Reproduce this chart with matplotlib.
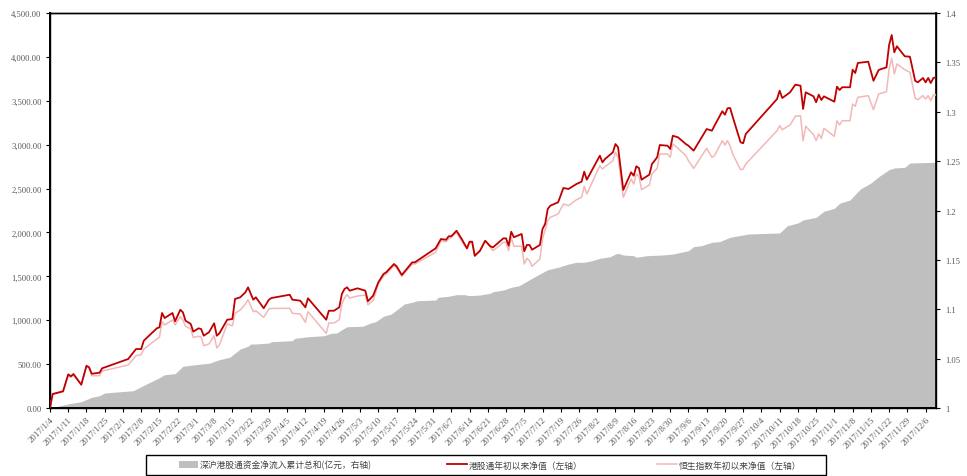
import matplotlib
matplotlib.use("Agg")
import matplotlib.pyplot as plt
from matplotlib.ticker import FuncFormatter, MultipleLocator
from matplotlib.patches import Patch, Rectangle
from matplotlib.lines import Line2D
import pandas as pd

# ---------------- data ----------------
line_dates = [
    "2017-01-04", "2017-01-05", "2017-01-09", "2017-01-11", "2017-01-12", "2017-01-13", "2017-01-16",
    "2017-01-18", "2017-01-19", "2017-01-20", "2017-01-23", "2017-01-24", "2017-02-03", "2017-02-06",
    "2017-02-08", "2017-02-09", "2017-02-14", "2017-02-15", "2017-02-16", "2017-02-17", "2017-02-20",
    "2017-02-21", "2017-02-23", "2017-02-24", "2017-02-25", "2017-02-27", "2017-02-28", "2017-03-02",
    "2017-03-03", "2017-03-04", "2017-03-06", "2017-03-08", "2017-03-09", "2017-03-10", "2017-03-13",
    "2017-03-15", "2017-03-16", "2017-03-18", "2017-03-20", "2017-03-21", "2017-03-23", "2017-03-24",
    "2017-03-27", "2017-03-29", "2017-03-30", "2017-04-06", "2017-04-07", "2017-04-10", "2017-04-12",
    "2017-04-13", "2017-04-20", "2017-04-21", "2017-04-23", "2017-04-25", "2017-04-26", "2017-04-27",
    "2017-04-28", "2017-04-29", "2017-05-02", "2017-05-05", "2017-05-06", "2017-05-08", "2017-05-10",
    "2017-05-12", "2017-05-13", "2017-05-16", "2017-05-17", "2017-05-19", "2017-05-23", "2017-05-24",
    "2017-06-01", "2017-06-03", "2017-06-05", "2017-06-06", "2017-06-07", "2017-06-09", "2017-06-11",
    "2017-06-13", "2017-06-14", "2017-06-15", "2017-06-16", "2017-06-18", "2017-06-20", "2017-06-22",
    "2017-06-23", "2017-06-27", "2017-06-28", "2017-06-29", "2017-06-30", "2017-07-01", "2017-07-04",
    "2017-07-05", "2017-07-06", "2017-07-07", "2017-07-08", "2017-07-11", "2017-07-12", "2017-07-13",
    "2017-07-14", "2017-07-15", "2017-07-18", "2017-07-19", "2017-07-20", "2017-07-22", "2017-07-25",
    "2017-07-27", "2017-07-28", "2017-07-29", "2017-08-03", "2017-08-04", "2017-08-05", "2017-08-08",
    "2017-08-09", "2017-08-10", "2017-08-12", "2017-08-15", "2017-08-16", "2017-08-17", "2017-08-18",
    "2017-08-19", "2017-08-22", "2017-08-23", "2017-08-25", "2017-08-26", "2017-08-29", "2017-08-30",
    "2017-08-31", "2017-09-02", "2017-09-05", "2017-09-06", "2017-09-08", "2017-09-13", "2017-09-15",
    "2017-09-16", "2017-09-19", "2017-09-20", "2017-09-21", "2017-09-22", "2017-09-23", "2017-09-26",
    "2017-09-27", "2017-09-28", "2017-10-10", "2017-10-11", "2017-10-12", "2017-10-15", "2017-10-17",
    "2017-10-19", "2017-10-20", "2017-10-21", "2017-10-24", "2017-10-25", "2017-10-26", "2017-10-27",
    "2017-10-28", "2017-11-01", "2017-11-02", "2017-11-03", "2017-11-04", "2017-11-07", "2017-11-08",
    "2017-11-09", "2017-11-10", "2017-11-14", "2017-11-16", "2017-11-18", "2017-11-21", "2017-11-22",
    "2017-11-23", "2017-11-24", "2017-11-25", "2017-11-28", "2017-11-30", "2017-12-02", "2017-12-03",
    "2017-12-05", "2017-12-06", "2017-12-07", "2017-12-08", "2017-12-09", "2017-12-10",
]

ggt_nav = [
    1.0000, 1.0142, 1.0169, 1.0341, 1.0321, 1.0344, 1.0236, 1.0428, 1.0412, 1.0347, 1.0357, 1.0402,
    1.0496, 1.0597, 1.0597, 1.0682, 1.0807, 1.0817, 1.0962, 1.0911, 1.0962, 1.0878, 1.0995, 1.0969,
    1.0884, 1.0851, 1.0773, 1.0807, 1.0800, 1.0732, 1.0767, 1.0858, 1.0732, 1.0756, 1.0894, 1.0901,
    1.1104, 1.1121, 1.1172, 1.1222, 1.1097, 1.1121, 1.1010, 1.1097, 1.1114, 1.1147, 1.1097, 1.1087,
    1.1020, 1.1111, 1.0894, 1.0985, 1.0985, 1.1020, 1.1154, 1.1205, 1.1222, 1.1188, 1.1212, 1.1188,
    1.1081, 1.1137, 1.1273, 1.1357, 1.1374, 1.1458, 1.1435, 1.1347, 1.1475, 1.1475,
    1.1617, 1.1711, 1.1704, 1.1739, 1.1739, 1.1795, 1.1711, 1.1617, 1.1684, 1.1684, 1.1542, 1.1593,
    1.1694, 1.1637, 1.1627, 1.1718, 1.1718, 1.1644, 1.1785, 1.1729, 1.1762, 1.1587, 1.1651, 1.1651,
    1.1603, 1.1651, 1.1813, 1.1863, 1.2015, 1.2049, 1.2083, 1.2157, 1.2228, 1.2218, 1.2268, 1.2292,
    1.2393, 1.2312, 1.2555, 1.2488, 1.2522, 1.2589, 1.2673, 1.2640, 1.2208, 1.2387, 1.2352, 1.2448,
    1.2430, 1.2312, 1.2363, 1.2471, 1.2539, 1.2663, 1.2656, 1.2623, 1.2757, 1.2741, 1.2673, 1.2656,
    1.2606, 1.2825, 1.2808, 1.2859, 1.3005, 1.2970, 1.3035, 1.3038, 1.2947, 1.2691, 1.2681, 1.2775,
    1.3129, 1.3213, 1.3139, 1.3197, 1.3274, 1.3264, 1.3028, 1.3197, 1.3156, 1.3096, 1.3173, 1.3119,
    1.3156, 1.3102, 1.3254, 1.3220, 1.3248, 1.3248, 1.3426, 1.3392, 1.3494, 1.3507, 1.3314, 1.3423,
    1.3450, 1.3676, 1.3777, 1.3602, 1.3663, 1.3562, 1.3557, 1.3314, 1.3298, 1.3342, 1.3298, 1.3342,
    1.3291, 1.3342, 1.3349,
]

hsi_nav = [
    1.0000, 1.0135, 1.0165, 1.0327, 1.0311, 1.0334, 1.0236, 1.0422, 1.0405, 1.0327, 1.0327, 1.0375,
    1.0435, 1.0530, 1.0540, 1.0597, 1.0699, 1.0716, 1.0874, 1.0841, 1.0891, 1.0841, 1.0925, 1.0891,
    1.0827, 1.0800, 1.0714, 1.0726, 1.0719, 1.0631, 1.0648, 1.0732, 1.0608, 1.0638, 1.0851, 1.0833,
    1.0959, 1.0992, 1.1053, 1.1097, 1.0975, 1.0985, 1.0918, 1.1003, 1.1008, 1.1010, 1.0959, 1.0952,
    1.0868, 1.0975, 1.0756, 1.0861, 1.0861, 1.0894, 1.1053, 1.1114, 1.1147, 1.1114, 1.1134, 1.1144,
    1.1046, 1.1087, 1.1256, 1.1337, 1.1357, 1.1441, 1.1418, 1.1334, 1.1458, 1.1458,
    1.1577, 1.1694, 1.1684, 1.1711, 1.1729, 1.1779, 1.1691, 1.1610, 1.1671, 1.1671, 1.1536, 1.1585,
    1.1694, 1.1627, 1.1593, 1.1678, 1.1678, 1.1593, 1.1729, 1.1638, 1.1638, 1.1458, 1.1516, 1.1492,
    1.1435, 1.1509, 1.1711, 1.1803, 1.1897, 1.1931, 1.1965, 1.2015, 1.2066, 1.2049, 1.2109, 1.2134,
    1.2245, 1.2167, 1.2454, 1.2420, 1.2444, 1.2504, 1.2589, 1.2539, 1.2134, 1.2319, 1.2268, 1.2370,
    1.2346, 1.2211, 1.2258, 1.2370, 1.2427, 1.2572, 1.2572, 1.2539, 1.2673, 1.2630, 1.2555, 1.2504,
    1.2427, 1.2630, 1.2539, 1.2555, 1.2707, 1.2663, 1.2707, 1.2650, 1.2572, 1.2413, 1.2420, 1.2471,
    1.2808, 1.2859, 1.2818, 1.2866, 1.2954, 1.2960, 1.2707, 1.2853, 1.2768, 1.2707, 1.2775, 1.2731,
    1.2832, 1.2751, 1.2909, 1.2866, 1.2909, 1.2909, 1.3078, 1.3055, 1.3146, 1.3163, 1.3021, 1.3180,
    1.3203, 1.3433, 1.3541, 1.3382, 1.3484, 1.3426, 1.3399, 1.3136, 1.3122, 1.3163, 1.3129, 1.3163,
    1.3112, 1.3170, 1.3170,
]

flow_dates = [
    "2017-01-04", "2017-01-11", "2017-01-16", "2017-01-20", "2017-01-23", "2017-01-25", "2017-02-05",
    "2017-02-10", "2017-02-14", "2017-02-17", "2017-02-21", "2017-02-24", "2017-02-28", "2017-03-03",
    "2017-03-06", "2017-03-10", "2017-03-14", "2017-03-18", "2017-03-21", "2017-03-22", "2017-03-24",
    "2017-03-29", "2017-03-30", "2017-04-07", "2017-04-08", "2017-04-13", "2017-04-19", "2017-04-22",
    "2017-04-24", "2017-04-26", "2017-04-28", "2017-05-04", "2017-05-07", "2017-05-09", "2017-05-12",
    "2017-05-15", "2017-05-20", "2017-05-23", "2017-05-25", "2017-06-01", "2017-06-02", "2017-06-06",
    "2017-06-09", "2017-06-12", "2017-06-14", "2017-06-18", "2017-06-22", "2017-06-23", "2017-06-27",
    "2017-06-30", "2017-07-03", "2017-07-08", "2017-07-11", "2017-07-14", "2017-07-18", "2017-07-22",
    "2017-07-25", "2017-07-28", "2017-07-31", "2017-08-03", "2017-08-07", "2017-08-09", "2017-08-10",
    "2017-08-12", "2017-08-16", "2017-08-17", "2017-08-21", "2017-08-27", "2017-08-31", "2017-09-06",
    "2017-09-08", "2017-09-11", "2017-09-15", "2017-09-18", "2017-09-22", "2017-09-27", "2017-09-29",
    "2017-10-11", "2017-10-14", "2017-10-18", "2017-10-20", "2017-10-25", "2017-10-28", "2017-11-01",
    "2017-11-03", "2017-11-07", "2017-11-11", "2017-11-15", "2017-11-18", "2017-11-22", "2017-11-24",
    "2017-11-28", "2017-11-30", "2017-12-10",
]

flow_cum = [
    0, 46, 72, 122, 140, 171, 197, 273, 330, 379, 391, 475, 490, 501, 509, 550, 578, 672, 703, 729,
    729, 740, 755, 767, 794, 812, 823, 851, 854, 892, 926, 931, 968, 983, 1045, 1071, 1185, 1204,
    1222, 1230, 1261, 1273, 1291, 1291, 1280, 1287, 1307, 1325, 1344, 1375, 1393, 1478, 1527, 1575,
    1603, 1640, 1660, 1660, 1678, 1705, 1724, 1754, 1762, 1743, 1735, 1717, 1735, 1743, 1754, 1792,
    1838, 1849, 1888, 1895, 1945, 1971, 1982, 1994, 2077, 2108, 2142, 2172, 2241, 2275, 2332, 2370,
    2495, 2563, 2635, 2715, 2734, 2742, 2791, 2799,
]

legend_labels = [
    "深沪港股通资金净流入累计总和(亿元，右轴)",
    "港股通年初以来净值（左轴）",
    "恒生指数年初以来净值（左轴）",
]

tick_start, tick_end = "2017-01-04", "2017-12-06"

# ---------------- drawing ----------------
W, H = 967, 477
fig = plt.figure(figsize=(W / 100, H / 100), dpi=100)
left, right, top, bottom = 50, 936, 14, 409
ax = fig.add_axes([left / W, 1 - bottom / H, (right - left) / W, (bottom - top) / H])
ax2 = ax.twinx()

ld = pd.to_datetime(line_dates)
fd = pd.to_datetime(flow_dates)

AREA = "#bfbfbf"
RED = "#c00000"
PINK = "#f2b8b8"

ax.fill_between(fd, flow_cum, 0, color=AREA, lw=0, zorder=1)
ax2.plot(ld, hsi_nav, color=PINK, lw=1.1, zorder=3)
ax2.plot(ld, ggt_nav, color=RED, lw=1.3, zorder=4)

ax.set_ylim(0, 4500)
ax.yaxis.set_major_locator(MultipleLocator(500))
ax.yaxis.set_major_formatter(FuncFormatter(lambda v, p: f"{v:,.2f}"))
ax2.set_ylim(1.0, 1.4)
ax2.yaxis.set_major_locator(MultipleLocator(0.05))
ax2.yaxis.set_major_formatter(FuncFormatter(lambda v, p: f"{round(v, 2):g}"))

ax.set_xlim(pd.Timestamp("2017-01-04"), pd.Timestamp("2017-12-10"))
ticks = pd.date_range(tick_start, tick_end, freq="7D")
ax.set_xticks(ticks)
ax.set_xticklabels([f"{t.year}/{t.month}/{t.day}" for t in ticks])

TICKC = "#595959"
for lab in ax.get_yticklabels() + ax2.get_yticklabels():
    lab.set_fontfamily("Liberation Serif")
    lab.set_fontsize(6.2)
    lab.set_color(TICKC)
for lab in ax.get_xticklabels():
    lab.set_fontfamily("Liberation Serif")
    lab.set_fontsize(6.4)
    lab.set_color(TICKC)
    lab.set_rotation(45)
    lab.set_ha("right")
    lab.set_rotation_mode("anchor")

ax.tick_params(axis="y", direction="out", length=3, width=0.8, pad=3)
ax.tick_params(axis="x", direction="out", length=3, width=0.8, pad=2)
ax2.tick_params(axis="y", direction="out", length=3, width=0.8, pad=4)

for a in (ax, ax2):
    for s in a.spines.values():
        s.set_color("black")
        s.set_linewidth(1.0)
ax.spines["left"].set_linewidth(1.4)
ax.spines["bottom"].set_linewidth(1.4)
ax2.spines["right"].set_linewidth(1.2)

# legend: entries without frame, plus a separate box
handles = [
    Patch(facecolor=AREA, edgecolor="none"),
    Line2D([], [], color=RED, lw=1.3),
    Line2D([], [], color=PINK, lw=1.1),
]
leg = fig.legend(handles, legend_labels, loc="center left", bbox_to_anchor=(179 / W, 11 / H),
                 ncol=3, frameon=False,
                 prop=dict(family=["Noto Sans CJK SC", "DejaVu Sans"], size=6.3),
                 handlelength=2.2, handleheight=0.9, columnspacing=8.6, borderpad=0,
                 borderaxespad=0, handletextpad=0.2)
for t in leg.get_texts():
    t.set_color("#404040")
fig.add_artist(Rectangle((146 / W, 1 - 476 / H), 680 / W, 20 / H, transform=fig.transFigure,
                         fill=False, edgecolor="black", lw=1.0))

fig.savefig("out.png", dpi=100)
